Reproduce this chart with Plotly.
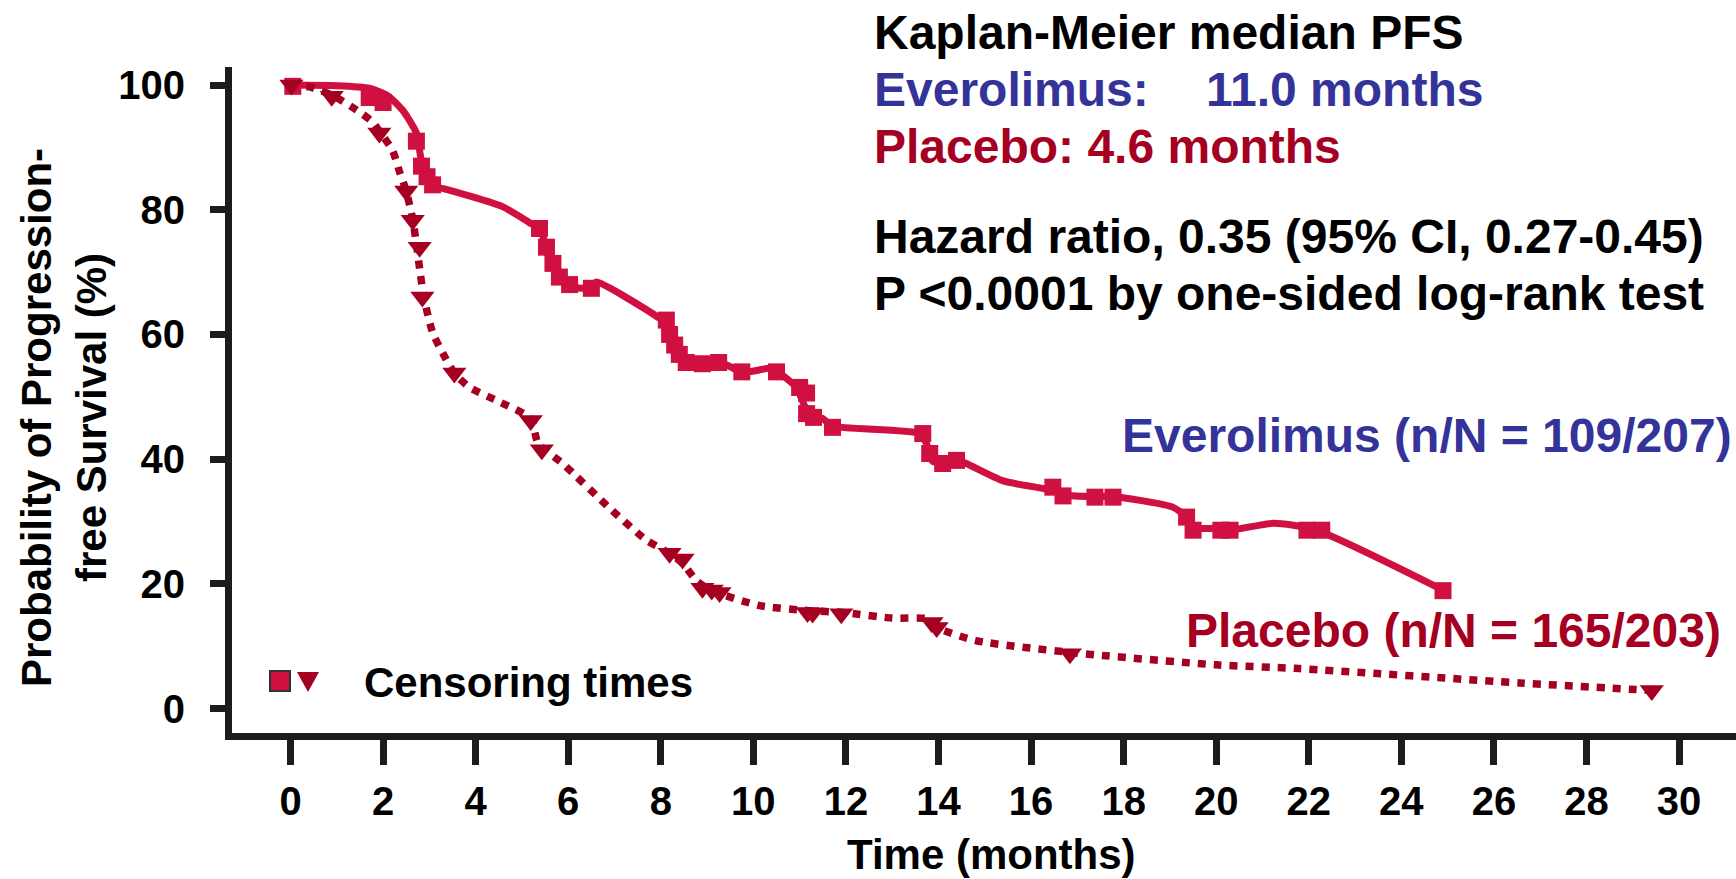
import plotly.graph_objects as go

# ---------------- data ----------------
evero_t = [0, 1.0, 1.7, 2.1, 2.42, 2.72, 2.83, 3.0, 3.1, 3.3, 4.58, 5.17, 5.38, 5.53, 5.67, 5.81,
           6.03, 6.3, 6.5, 6.6, 7.97, 8.12, 8.26, 8.41, 8.6, 8.98, 9.42, 9.75, 10.42, 10.57, 10.93,
           11.15, 11.5, 11.71, 13.6, 13.74, 13.88, 14.39, 14.6, 15.4, 16.47, 16.77, 17.38, 17.77,
           19.06, 19.36, 19.5, 20.0, 20.37, 21.23, 22.13, 24.9]
evero_s = [100, 99.9, 99.5, 98.3, 96, 92.3, 87.8, 84.6, 83.7, 83.4, 80.5, 77.9, 77, 74, 71.4, 69.2,
           67.8, 67.4, 67.5, 68.4, 62.6, 61.6, 58, 56, 55.3, 55.0, 55.1, 53.9, 54.6, 53.8, 51.5,
           48, 46.5, 45.3, 44.1, 42.5, 39.6, 39.9, 39.3, 36.5, 35.0, 34.2, 34.0, 34.0,
           32.3, 30.7, 29.0, 28.9, 28.7, 29.7, 28.7, 19.0]

evero_cens_t = [0.05, 1.7, 2.0, 2.72, 2.83, 2.95, 3.07, 5.38, 5.53, 5.67, 5.81, 6.03, 6.5,
                8.12, 8.19, 8.3, 8.4, 8.55, 8.9, 9.25, 9.75, 10.5, 11.0, 11.15, 11.15, 11.3, 11.71,
                13.66, 13.81, 14.09, 14.39, 16.47, 16.69, 17.38, 17.77, 19.36, 19.5, 20.1, 20.3,
                21.96, 22.28, 24.9]
evero_cens_s = [99.8, 98.0, 97.2, 91.0, 87.0, 85.3, 84.0, 77.0, 74.0, 71.4, 69.2, 68.0, 67.4,
                62.3, 60.0, 58.3, 56.8, 55.5, 55.3, 55.5, 54.0, 54.0, 51.5, 50.6, 47.3, 46.7, 45.1,
                44.1, 40.9, 39.3, 39.8, 35.5, 34.1, 33.9, 33.9, 30.7, 28.6, 28.6, 28.6,
                28.6, 28.6, 18.9]

placebo_t = [0, 0.41, 0.89, 1.43, 1.77, 1.95, 2.2, 2.36, 2.5, 2.64, 2.72, 2.8, 2.88, 3.07, 3.29,
             3.54, 3.87, 4.45, 5.19, 5.35, 5.88, 6.9, 7.69, 8.19, 8.47, 8.77, 8.98, 9.2, 10.14,
             11.2, 11.93, 13.0, 13.74, 13.96, 14.8, 16.84, 20.0, 21.8, 26.56, 29.41]
placebo_s = [100, 99.7, 98.4, 96, 94.1, 92.3, 89.6, 86, 83, 78.5, 74.5, 70, 66, 60.3, 57,
             53.8, 51.5, 49.4, 46.5, 42.5, 39.3, 32.1, 27, 24.9, 23.3, 20.5, 19.4, 18.6, 16.5,
             15.7, 15.4, 14.5, 14.4, 13, 10.9, 9.0, 7.0, 6.4, 4.1, 2.9]

placebo_cens_t = [0.02, 0.89, 1.92, 2.5, 2.64, 2.79, 2.85, 3.54, 5.19, 5.43, 8.19, 8.47, 8.9,
                  9.1, 9.27, 11.17, 11.28, 11.9, 13.85, 13.96, 16.84, 29.41]
placebo_cens_s = [100, 98.2, 92.3, 83, 78.3, 74, 66, 53.8, 46.2, 41.5, 24.9, 24, 19.3,
                  19, 18.6, 15.4, 15.3, 15.2, 13.8, 13, 8.8, 2.9]

x_ticks = list(range(0, 31, 2))
y_ticks = [0, 20, 40, 60, 80, 100]

# ---------------- style ----------------
EVERO = "#D01040"
PLAC = "#A50021"
BLUE = "#333399"
AX = "#1c1c1c"
FONT = "Liberation Sans, Arial, sans-serif"

fig = go.Figure()
fig.add_trace(go.Scatter(x=evero_t, y=evero_s, mode="lines",
                         line=dict(color=EVERO, width=7, shape="spline", smoothing=0.6),
                         hoverinfo="skip"))
fig.add_trace(go.Scatter(x=placebo_t, y=placebo_s, mode="lines",
                         line=dict(color=PLAC, width=7.5, dash="8px,8px", shape="spline", smoothing=0.6),
                         hoverinfo="skip"))
fig.add_trace(go.Scatter(x=evero_cens_t, y=evero_cens_s, mode="markers",
                         marker=dict(symbol="square", size=17, color=EVERO, line=dict(width=0)),
                         cliponaxis=False))
fig.add_trace(go.Scatter(x=placebo_cens_t, y=placebo_cens_s, mode="markers",
                         marker=dict(symbol="triangle-down", size=21, color=PLAC, line=dict(width=0)),
                         cliponaxis=False))

W, H = 1736, 879
L, R, T, B = 232, 0, 67, 146
PW, PH = W - L - R, H - T - B


def px(X):
    return (X - L) / PW


def py(Y):
    return (H - B - Y) / PH


def ann(text, X, Y, color="black", size=48, xanchor="left", **kw):
    fig.add_annotation(text=text, x=px(X), y=py(Y), xref="paper", yref="paper",
                       xanchor=xanchor, yanchor="middle", showarrow=False, borderpad=0,
                       font=dict(family=FONT, size=size, color=color, weight="bold"), **kw)


ann("Kaplan-Meier median PFS", 873, 33)
ann("Everolimus:", 873, 89, BLUE)
ann("11.0 months", 1205, 89, BLUE)
ann("Placebo: 4.6 months", 873, 146, PLAC)
ann("Hazard ratio, 0.35 (95% CI, 0.27-0.45)", 873, 236)
ann("P <0.0001 by one-sided log-rank test", 873, 293)
ann("Everolimus (n/N = 109/207)", 1733, 435, BLUE, xanchor="right")
ann("Placebo (n/N = 165/203)", 1722, 630, PLAC, xanchor="right")
ann("Censoring times", 363, 682, size=42)
ann("Time (months)", 991, 854, size=42, xanchor="center")
ann("Probability of Progression-<br>free Survival (%)", 64, 418, size=42, xanchor="center",
    textangle=-90, align="center")

# legend symbols
fig.add_shape(type="rect", xref="paper", yref="paper",
              x0=px(270), x1=px(290), y0=py(691), y1=py(671),
              fillcolor=EVERO, line=dict(color="#333333", width=2))
fig.add_shape(type="path", xref="paper", yref="paper",
              path=f"M {px(297)} {py(672)} L {px(319)} {py(672)} L {px(308)} {py(692)} Z",
              fillcolor=PLAC, line=dict(width=0))

axis_common = dict(showgrid=False, zeroline=False, showline=True, linewidth=7, linecolor=AX,
                   ticks="outside", tickwidth=7, tickcolor=AX,
                   tickfont=dict(family=FONT, size=40, color="black", weight="bold"))

fig.update_layout(
    width=W, height=H, autosize=False,
    margin=dict(l=L, r=R, t=T, b=B, pad=0),
    plot_bgcolor="white", paper_bgcolor="white",
    showlegend=False,
    xaxis=dict(range=[-1.264, 31.23], tickvals=x_ticks, ticklen=25, ticklabelstandoff=2,
               **axis_common),
    yaxis=dict(range=[-3.93, 102.9], tickvals=y_ticks, ticklen=15, ticklabelstandoff=17,
               **axis_common),
)

fig.write_html("out.html")
